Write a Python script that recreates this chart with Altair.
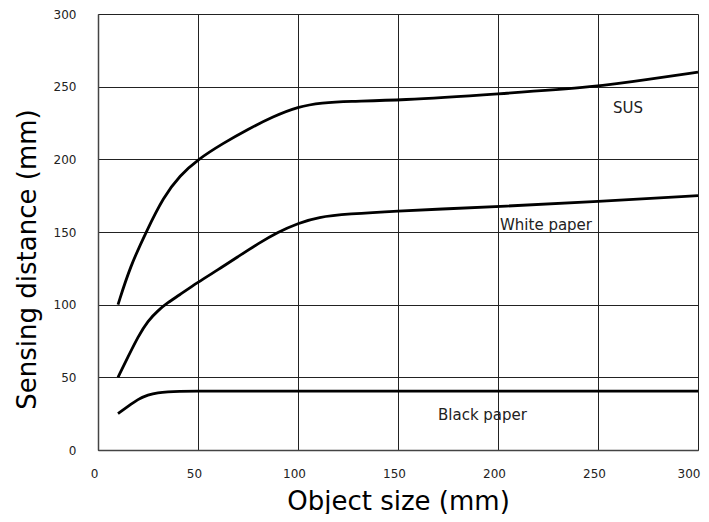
import altair as alt
import pandas as pd

sus_x = [10, 16, 24.4, 32.7, 41, 50, 62.5, 75, 87.5, 100, 112, 125, 150, 200, 250, 275, 300]
sus_y = [100, 126, 151, 174, 189, 200, 211, 220.7, 229.4, 236.3, 239, 240, 240.5, 245, 250, 255, 260]

white_x = [10, 15, 20, 25, 30, 35, 40, 50, 60, 70, 80, 90, 100, 110, 125, 150, 175, 200, 250, 300]
white_y = [50, 64, 78, 89, 96, 101.5, 106, 115.5, 124, 133, 142, 150, 156, 160.3, 162.4, 164.5, 166, 167.5, 171, 175]

black_x = [10, 15, 20, 25, 30, 35, 40, 50, 60, 100, 200, 300]
black_y = [25, 30, 35, 38, 39.5, 40, 40.3, 40.5, 40.5, 40.5, 40.5, 40.5]

label_text = ["SUS", "White paper", "Black paper"]
label_x = [257.5, 201, 170]
label_y = [235.5, 155, 24]

rows = []
for name, xs, ys in [("SUS", sus_x, sus_y), ("White paper", white_x, white_y), ("Black paper", black_x, black_y)]:
    for x, y in zip(xs, ys):
        rows.append({"series": name, "x": x, "y": y})
df = pd.DataFrame(rows)
labels = pd.DataFrame({"text": label_text, "x": label_x, "y": label_y})

xs = alt.Scale(domain=[0, 300], nice=False)
ys = alt.Scale(domain=[0, 300], nice=False)

ticks = [0, 50, 100, 150, 200, 250, 300]

lines = alt.Chart(df).mark_line(interpolate="basis", strokeWidth=2.8, color="black").encode(
    x=alt.X("x:Q", scale=xs, title="Object size (mm)",
            axis=alt.Axis(values=ticks, ticks=False, labelPadding=18,
                          labelOffset=alt.condition("datum.value == 300", alt.value(2), alt.value(-4)),
                          labelAlign=alt.condition("datum.value == 300", alt.value("right"), alt.value("center")),
                          labelFontSize=12, labelFont="DejaVu Sans", labelColor="#222",
                          titleFont="DejaVu Sans", titleFontSize=26, titleFontWeight="normal",
                          titleColor="black", titleX=300, titleY=51, titleAlign="center",
                          titleBaseline="middle", gridColor="#222", gridOpacity=1,
                          domainColor="#444", domainWidth=1.5)),
    y=alt.Y("y:Q", scale=ys, title="Sensing distance (mm)",
            axis=alt.Axis(values=ticks, ticks=False, labelPadding=22,
                          labelFontSize=12, labelFont="DejaVu Sans", labelColor="#222",
                          titleFont="DejaVu Sans", titleFontSize=26, titleFontWeight="normal",
                          titleColor="black", titleX=-71, titleY=245, titleAngle=270,
                          titleAlign="center", titleBaseline="middle",
                          gridColor="#222", gridOpacity=1,
                          domainColor="#444", domainWidth=1.5)),
    detail="series:N",
)

texts = alt.Chart(labels).mark_text(align="left", baseline="middle", fontSize=15,
                                    font="DejaVu Sans", color="#222").encode(
    x=alt.X("x:Q", scale=xs),
    y=alt.Y("y:Q", scale=ys),
    text="text:N",
)

chart = alt.layer(lines, texts).properties(
    width=600, height=436,
    autosize=alt.AutoSizeParams(type="none"),
    padding={"left": 90, "top": 6, "right": 3, "bottom": 64},
).configure_view(stroke="#444", strokeWidth=1.5).configure(background="white")

chart.save("out.html", embed_options={"renderer": "svg", "actions": False})
